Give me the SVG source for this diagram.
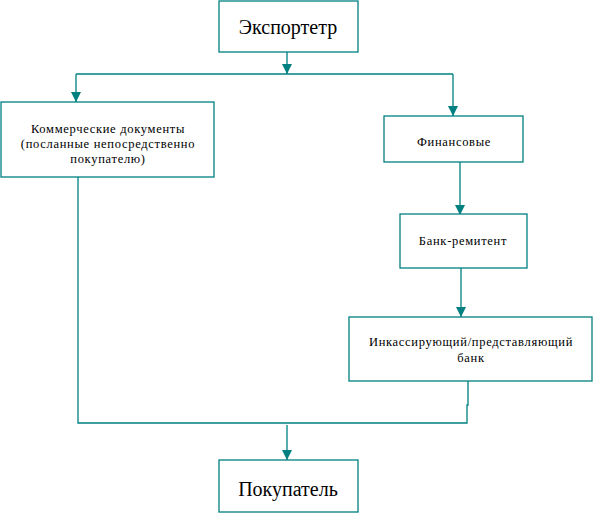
<svg xmlns="http://www.w3.org/2000/svg" width="594" height="513" viewBox="0 0 594 513">
<style>
.box{fill:#fff;stroke:#008080;stroke-width:1.3}
.ln{fill:none;stroke:#008080;stroke-width:1.3}
.arr{marker-end:url(#ah)}
.big{font-family:"Liberation Serif","Times New Roman",serif;font-size:20px;fill:#000;text-anchor:middle}
.sm{font-family:"Liberation Serif","Times New Roman",serif;font-size:12.5px;fill:#000;text-anchor:middle;letter-spacing:0.7px}
</style>
<defs>
<marker id="ah" viewBox="0 0 10 10" refX="10" refY="5" markerWidth="10" markerHeight="10" markerUnits="userSpaceOnUse" orient="auto">
<path d="M0,0 L10,5 L0,10 Z" fill="#008080"/>
</marker>
</defs>
<rect width="594" height="513" fill="#fff"/>
<g id="connectors">
<path class="ln arr" d="M287,52 V74"/>
<path class="ln" d="M76,74 H453"/>
<path class="ln arr" d="M76,74 V102"/>
<path class="ln arr" d="M453,74 V116"/>
<path class="ln arr" d="M460,162 V215"/>
<path class="ln arr" d="M461,268 V317"/>
<path class="ln" d="M468,381 V405 H467 V423 H78 V177"/>
<path class="ln arr" d="M287,425 V460"/>
</g>
<g id="exporter">
<rect class="box" x="219" y="1" width="139" height="51"/>
<text class="big" x="288" y="34">Экспортетр</text>
</g>
<g id="commercial">
<rect class="box" x="1" y="102" width="213" height="75"/>
<text class="sm" x="108" y="133">Коммерческие документы</text>
<text class="sm" x="108" y="148">(посланные непосредственно</text>
<text class="sm" x="108" y="163">покупателю)</text>
</g>
<g id="financial">
<rect class="box" x="384" y="116" width="139" height="46"/>
<text class="sm" x="454" y="146">Финансовые</text>
</g>
<g id="remitting">
<rect class="box" x="400" y="214" width="127" height="54"/>
<text class="sm" x="463" y="245">Банк-ремитент</text>
</g>
<g id="collecting">
<rect class="box" x="349" y="317" width="243" height="64"/>
<text class="sm" x="471" y="346">Инкассирующий/представляющий</text>
<text class="sm" x="471" y="362">банк</text>
</g>
<g id="buyer">
<rect class="box" x="219" y="460" width="139" height="52"/>
<text class="big" x="288" y="496">Покупатель</text>
</g>
</svg>
